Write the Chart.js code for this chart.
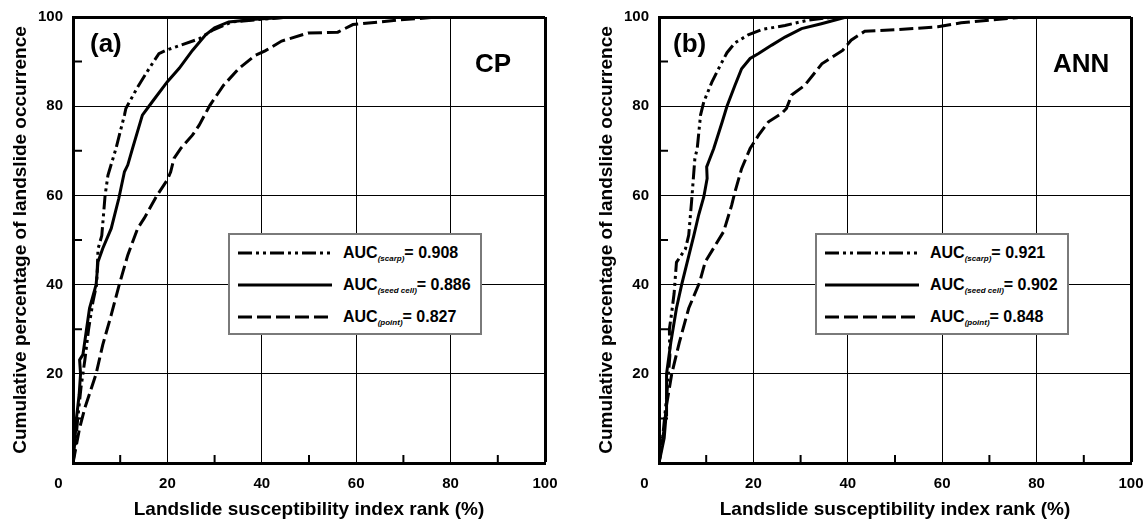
<!DOCTYPE html>
<html>
<head>
<meta charset="utf-8">
<script src="https://cdn.jsdelivr.net/npm/chart.js@4.4.1/dist/chart.umd.min.js"></script>
<style>
  body { margin: 0; background: #fff; font-family: "Liberation Sans", Arial, sans-serif; }
  #wrap { position: relative; width: 1145px; height: 521px; overflow: hidden; }
  .panel { position: absolute; top: 0; width: 559px; height: 521px; }
  .panel canvas { position: absolute; left: 0; top: 0; }
  .tag { position: absolute; font-weight: bold; font-size: 26px; line-height: 26px; color: #000; }
  .legend {
    position: absolute; left: 228px; top: 233px; width: 254px; height: 102px;
    box-sizing: border-box; background: #fff; border: 2px solid #7a7a7a; padding-top: 2px;
  }
  .row { display: flex; align-items: center; height: 32px; }
  .row svg { margin-left: 8px; flex: none; }
  .row span { margin-left: 11px; font-weight: bold; font-size: 16px; color: #000; white-space: nowrap; }
  .row sub { font-size: 8px; font-style: italic; vertical-align: baseline; position: relative; top: 3px; }
</style>
</head>
<body>
<div id="wrap">
  <div class="panel" style="left:0px">
    <canvas id="cp" width="559" height="521"></canvas>
    <div class="tag" style="left:90px; top:30px">(a)</div>
    <div class="tag" style="left:475px; top:50px">CP</div>
    <div class="legend" id="legend-cp"></div>
  </div>
  <div class="panel" style="left:586px">
    <canvas id="ann" width="559" height="521"></canvas>
    <div class="tag" style="left:87px; top:30px">(b)</div>
    <div class="tag" style="left:467px; top:50px">ANN</div>
    <div class="legend" id="legend-ann" style="left:229px"></div>
  </div>
</div>
<script>
const xTitle = "Landslide susceptibility index rank (%)";
const yTitle = "Cumulative percentage of landslide occurrence";
const seriesNames = ["scarp", "seed cell", "point"];
const cpAuc = ["0.908", "0.886", "0.827"];
const annAuc = ["0.921", "0.902", "0.848"];
const minorTicks = [10, 30, 50, 70, 90];

// [rank %, cumulative %]
const cpScarp = [
  [0, 0], [0.6, 5], [1, 10], [1.7, 17], [2.5, 23], [3.3, 30], [4.2, 36], [5, 40],
  [5.2, 45], [5.3, 48], [6.1, 51], [6.8, 60], [7.4, 64.5], [9.1, 70.5], [10.9, 78],
  [11.2, 79.5], [13.7, 84.3], [16.1, 88.4], [18.2, 91.8], [19.6, 92.5], [21.8, 93.3],
  [26.7, 95.1], [29.5, 97], [33.7, 98.9], [40, 99.5], [46, 100],
];
const cpSeed = [
  [0, 0], [0.4, 5], [0.7, 9.7], [1.3, 15.3], [1.6, 20], [1.4, 23.1], [2.1, 24.3],
  [2.8, 29.5], [3.5, 34.7], [4.9, 40], [5.3, 45.1], [6.3, 48.1], [8.1, 52.6],
  [9.7, 59.3], [10.9, 65.3], [11.6, 66.8], [12.6, 70.5], [14.7, 78], [16.8, 81],
  [20, 85.5], [22.5, 88.5], [25.3, 92.5], [28.1, 96], [30, 97.6], [33, 98.9],
  [38.6, 99.5], [46, 100],
];
const cpPoint = [
  [0, 0], [1.4, 7.8], [2.5, 12.3], [4.9, 20], [6.3, 26.5], [8.1, 33.2], [9.8, 40],
  [11.6, 46.6], [13.7, 52.6], [15.1, 54.9], [17.8, 60], [20, 63.5], [20.7, 65.3],
  [21.4, 68.3], [22.8, 70.5], [25.3, 73.5], [26.7, 75.7], [29, 80.2], [31.9, 84.7],
  [35.1, 88.4], [38.6, 91.4], [40.7, 92.4], [44.2, 94.6], [49.8, 96.4], [56.1, 96.6],
  [59.3, 98.3], [68.8, 99.3], [77.5, 100],
];
const annScarp = [
  [0, 0], [0.8, 6], [1.6, 14.6], [2.3, 24], [2.2, 30], [2.6, 33], [3.2, 38],
  [3.7, 45], [5.6, 48], [6.3, 51.1], [6.9, 58.6], [7.6, 68.3], [8.1, 70.5],
  [8.8, 78], [9.5, 81], [11.2, 85.4], [13, 89.2], [14.4, 92], [16.1, 94.2],
  [18.9, 96], [21.8, 97.2], [26.7, 98.1], [31.6, 99.3], [36.5, 99.9], [48, 100],
];
const annSeed = [
  [0, 0], [1.1, 5.6], [1.5, 10.8], [1.6, 20], [2.5, 27], [3.7, 34.7], [4.8, 40],
  [6.7, 48.1], [7.4, 51.1], [8.4, 55.6], [9.5, 59.7], [10.2, 63.8], [10.1, 66.4],
  [10.5, 67.5], [11.6, 70.5], [13.4, 76.5], [14.4, 80], [16.1, 84.7], [17.5, 88.4],
  [19.3, 90.7], [21.1, 91.8], [23.9, 93.7], [26.7, 95.5], [30.2, 97.4], [34.4, 98.5],
  [39.3, 99.9], [45, 100],
];
const annPoint = [
  [0, 0], [1, 7], [1.6, 13], [2.7, 20], [4.3, 27], [6.3, 34.7], [8.6, 40.5],
  [9.8, 45.1], [13.7, 51.9], [15.4, 57.8], [16.1, 60.8], [17.5, 66], [19.3, 70.5],
  [21.1, 73.5], [23.2, 76.5], [26, 78.4], [27, 79.5], [28.1, 82.5], [30.9, 84.7],
  [34.5, 89.5], [38.9, 92.5], [40.7, 94.8], [43.6, 96.8], [50.7, 97.2], [59.1, 97.8],
  [64, 98.7], [70, 99.3], [77.5, 100],
];

const dashes = [[14, 4, 3, 4, 3, 4], [], [14, 5]];
const family = "'Liberation Sans', Arial, sans-serif";

const minorTickPlugin = {
  id: "minorTicks",
  afterDatasetsDraw(chart) {
    const { ctx, chartArea, scales } = chart;
    ctx.save();
    ctx.strokeStyle = "#000";
    ctx.lineWidth = 2;
    minorTicks.forEach((v) => {
      const px = scales.x.getPixelForValue(v);
      const py = scales.y.getPixelForValue(v);
      ctx.beginPath();
      ctx.moveTo(px, chartArea.bottom);
      ctx.lineTo(px, chartArea.bottom - 8);
      ctx.moveTo(chartArea.left, py);
      ctx.lineTo(chartArea.left + 9, py);
      ctx.stroke();
    });
    ctx.restore();
  },
};

const makeChart = (canvasId, curves) =>
  new Chart(document.getElementById(canvasId).getContext("2d"), {
    type: "line",
    data: {
      datasets: curves.map((curve, i) => ({
        label: seriesNames[i],
        data: curve.map(([x, y]) => ({ x, y })),
        borderColor: "#000",
        borderWidth: 3,
        borderDash: dashes[i],
        pointRadius: 0,
        tension: 0,
        fill: false,
      })),
    },
    options: {
      responsive: false,
      animation: false,
      events: [],
      layout: { padding: { top: 17, right: 14, left: 0, bottom: 0 } },
      plugins: { legend: { display: false }, tooltip: { enabled: false } },
      scales: {
        x: {
          type: "linear",
          min: 0,
          max: 100,
          border: { color: "#000", width: 3 },
          grid: {
            color: "#000",
            drawTicks: false,
            lineWidth: (c) => (c.tick && c.tick.value === 100 ? 3 : 1),
          },
          ticks: {
            stepSize: 20,
            padding: 12,
            color: "#000",
            maxRotation: 0,
            autoSkip: false,
            font: { size: 15, weight: "bold", family },
            callback: (v) => (v === 0 ? "0" + "\u00a0".repeat(7) : v),
          },
          title: {
            display: true,
            text: xTitle,
            color: "#000",
            font: { size: 19, weight: "bold", family },
            padding: { top: 0, bottom: 0 },
          },
          afterFit: (s) => {
            s.height = 58;
            s.paddingLeft = 0;
            s.paddingRight = 0;
          },
        },
        y: {
          type: "linear",
          min: 0,
          max: 100,
          border: { color: "#000", width: 3 },
          grid: {
            color: "#000",
            drawTicks: false,
            lineWidth: (c) => (c.tick && c.tick.value === 100 ? 3 : 1),
          },
          ticks: {
            stepSize: 20,
            padding: 10,
            color: "#000",
            font: { size: 15, weight: "bold", family },
            callback: (v) => (v === 0 ? "" : v),
          },
          title: {
            display: true,
            text: yTitle,
            color: "#000",
            font: { size: 19, weight: "bold", family },
            padding: { top: 9, bottom: 0 },
          },
          afterFit: (s) => {
            s.width = 73;
            s.paddingTop = 0;
            s.paddingBottom = 0;
          },
        },
      },
    },
    plugins: [minorTickPlugin],
  });

const fillLegend = (id, aucs) => {
  const box = document.getElementById(id);
  aucs.forEach((auc, i) => {
    const row = document.createElement("div");
    row.className = "row";
    row.innerHTML =
      `<svg width="94" height="8"><line x1="0" y1="4" x2="94" y2="4" stroke="#000" stroke-width="3" stroke-dasharray="${dashes[i].join(" ") || "none"}"/></svg>` +
      `<span>AUC<sub>(${seriesNames[i]})</sub>= ${auc}</span>`;
    box.appendChild(row);
  });
};

makeChart("cp", [cpScarp, cpSeed, cpPoint]);
makeChart("ann", [annScarp, annSeed, annPoint]);
fillLegend("legend-cp", cpAuc);
fillLegend("legend-ann", annAuc);
</script>
</body>
</html>
